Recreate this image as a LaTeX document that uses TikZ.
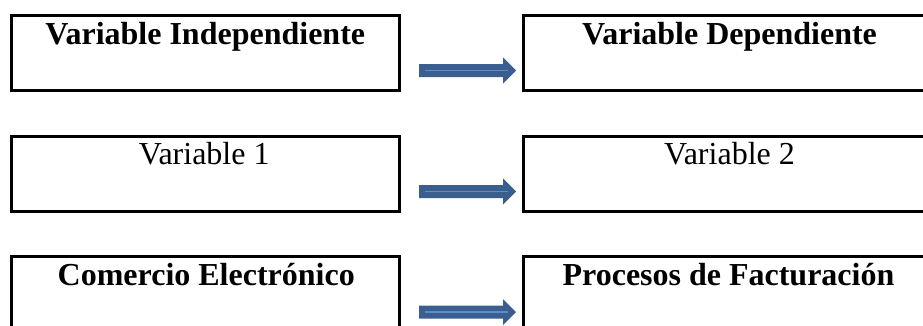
\documentclass[tikz,border=0pt]{standalone}
\usepackage{fontspec}
\setmainfont{Liberation Serif}
\usetikzlibrary{calc}
\definecolor{arrowdark}{HTML}{3A5F8E}
\definecolor{arrowlight}{HTML}{5B8DCB}
\tikzset{
  box/.style={draw=black, line width=3pt, rectangle, minimum height=75pt, inner sep=0pt, anchor=north west},
  leftbox/.style={box, minimum width=388.5pt},
  rightbox/.style={box, minimum width=410pt},
  lbl/.style={anchor=base, inner sep=0pt, font=\fontsize{32}{38}\selectfont},
  blbl/.style={lbl, font=\fontsize{32}{38}\selectfont\bfseries},
  arrowbody/.style={fill=arrowdark},
  arrowline/.style={draw=arrowlight, line width=1.8pt}
}
\newcommand{\blockarrow}[2]{%
  \fill[arrowbody] ($(#1)+(0,-6.5)$) -- ($(#2)+(-13,-6.5)$) -- ($(#2)+(-13,-13)$) -- (#2)
    -- ($(#2)+(-13,13)$) -- ($(#2)+(-13,6.5)$) -- ($(#1)+(0,6.5)$) -- cycle;
  \draw[arrowline] ($(#1)+(6,0)$) -- ($(#2)+(-8,0)$);
}
\begin{document}
\begin{tikzpicture}[x=1pt, y=-1pt]
  \path[use as bounding box, clip] (0,0) rectangle (923,325);
  % row 1
  \node[leftbox] (L1) at (9.5,14) {};
  \node[rightbox] (R1) at (522,14) {};
  \node[blbl] (tL1) at ($(L1.north)+(0,30)$) {Variable Independiente};
  \node[blbl] (tR1) at ($(R1.north)+(1,30)$) {Variable Dependiente};
  \coordinate (a1s) at (419,70.5);
  \coordinate (a1e) at (516,70.5);
  \blockarrow{a1s}{a1e}
  % row 2
  \node[leftbox] (L2) at (9.5,134.5) {};
  \node[rightbox] (R2) at (522,134.5) {};
  \node[lbl] (tL2) at ($(L2.north)+(-1,30)$) {Variable 1};
  \node[lbl] (tR2) at ($(R2.north)+(1,30)$) {Variable 2};
  \coordinate (a2s) at (419,191.5);
  \coordinate (a2e) at (516,191.5);
  \blockarrow{a2s}{a2e}
  % row 3
  \node[leftbox] (L3) at (9.5,255) {};
  \node[rightbox] (R3) at (522,255) {};
  \node[blbl] (tL3) at ($(L3.north)+(1,30)$) {Comercio Electrónico};
  \node[blbl] (tR3) at ($(R3.north)+(0,30)$) {Procesos de Facturación};
  \coordinate (a3s) at (419,312);
  \coordinate (a3e) at (516,312);
  \blockarrow{a3s}{a3e}
\end{tikzpicture}
\end{document}
